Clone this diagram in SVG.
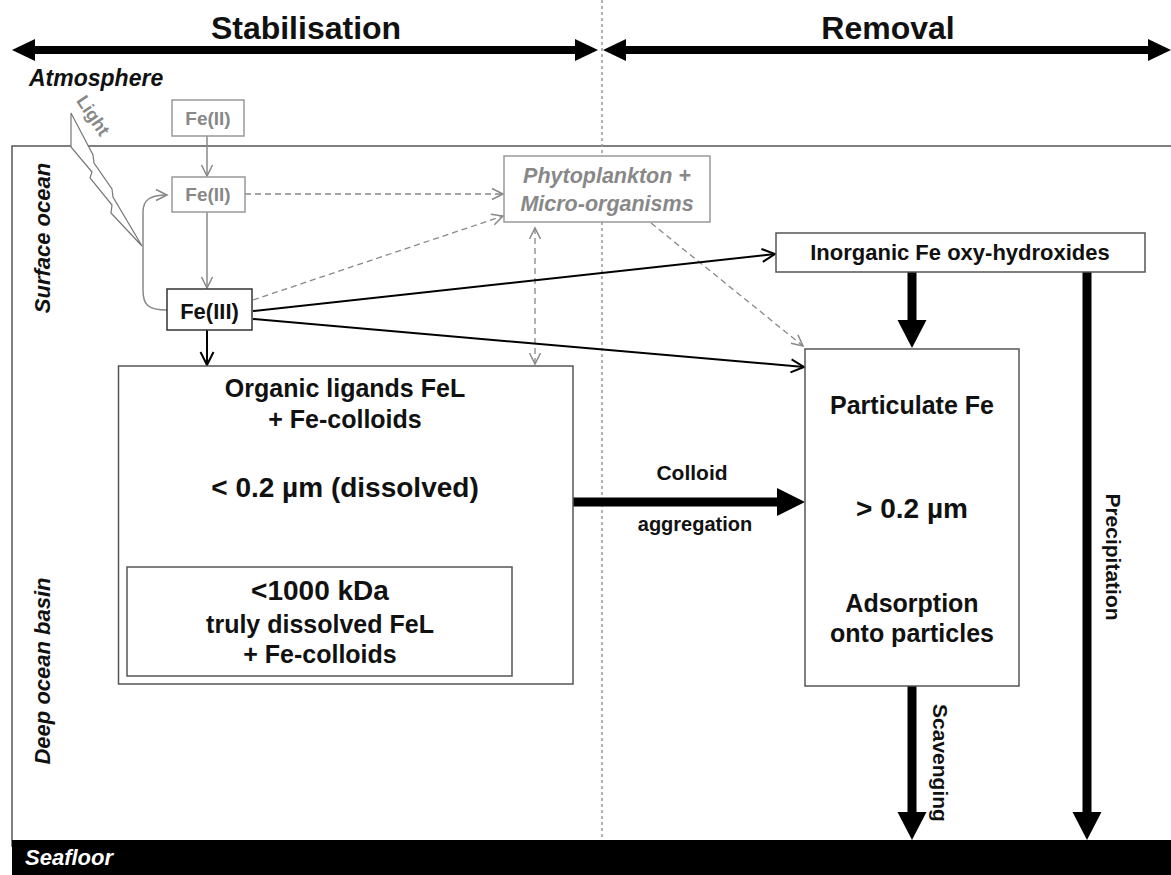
<svg xmlns="http://www.w3.org/2000/svg" width="1171" height="875" viewBox="0 0 1171 875">
<defs>
<marker id="vGray" markerUnits="userSpaceOnUse" markerWidth="14" markerHeight="14" refX="12" refY="6" orient="auto-start-reverse" viewBox="0 0 14 12">
<path d="M1,0.5 L12,6 L1,11.5" fill="none" stroke="#888" stroke-width="1.5"/>
</marker>
<marker id="vBlack" markerUnits="userSpaceOnUse" markerWidth="16" markerHeight="16" refX="14" refY="7" orient="auto" viewBox="0 0 16 14">
<path d="M1,0.5 L14,7 L1,13.5" fill="none" stroke="#000" stroke-width="2"/>
</marker>
</defs>
<style>
text{font-family:"Liberation Sans",Arial,sans-serif;font-weight:bold;fill:#111}
.c{text-anchor:middle}
.it{font-style:italic}
.gray{fill:#888}
.box{fill:#fff;stroke:#555;stroke-width:1.5}
.gbox{fill:#fff;stroke:#999;stroke-width:1.5}
.gl{fill:none;stroke:#888;stroke-width:1.5}
.gd{fill:none;stroke:#888;stroke-width:1.3;stroke-dasharray:6,4}
.bl{fill:none;stroke:#000;stroke-width:2}
.thick{fill:#000}
</style>

<g id="background">
<rect x="12" y="146" width="1170" height="700" fill="#fff" stroke="#555" stroke-width="1.5"/>
<line x1="602" y1="0" x2="602" y2="840" stroke="#999" stroke-width="1.5" stroke-dasharray="3,3"/>
<rect x="12" y="840" width="1170" height="40" fill="#000"/>
<text x="25" y="865" class="it" style="fill:#fff" font-size="22">Seafloor</text>
<text x="29" y="86" class="it" font-size="23">Atmosphere</text>
<text transform="translate(50,238) rotate(-90)" class="c it" font-size="22">Surface ocean</text>
<text transform="translate(50,671) rotate(-90)" class="c it" font-size="22">Deep ocean basin</text>
</g>

<g id="phase-arrows">
<rect x="32" y="46" width="546" height="8" fill="#000"/>
<polygon points="12,50 35,39 35,61" fill="#000"/>
<polygon points="598,50 575,39 575,61" fill="#000"/>
<text x="306" y="39" class="c" font-size="32">Stabilisation</text>
<rect x="624" y="46" width="530" height="8" fill="#000"/>
<polygon points="603,50 626,39 626,61" fill="#000"/>
<polygon points="1171,50 1148,39 1148,61" fill="#000"/>
<text x="888" y="39" class="c" font-size="32">Removal</text>
</g>

<g id="light">
<polygon points="71,113 71,147 92,172 90,178 112,205 111,213 142,246 113,197 112,189 94,163 93,155" fill="#fff" stroke="#777" stroke-width="1.2"/>
<text transform="translate(88,119) rotate(56)" class="c gray" font-size="18">Light</text>
</g>

<g id="connectors">
<line x1="207" y1="136" x2="207" y2="176" class="gl" marker-end="url(#vGray)"/>
<line x1="207" y1="212" x2="207" y2="288" class="gl" marker-end="url(#vGray)"/>
<path d="M167,310 C147,310 143,304 143,290 L143,212 C143,200 150,195 167,195" class="gl" marker-end="url(#vGray)"/>
<line x1="245" y1="194" x2="503" y2="194" class="gd" marker-end="url(#vGray)"/>
<line x1="253" y1="300" x2="503" y2="216" class="gd" marker-end="url(#vGray)"/>
<line x1="535" y1="228" x2="535" y2="364" class="gd" marker-start="url(#vGray)" marker-end="url(#vGray)"/>
<line x1="651" y1="223" x2="803" y2="346" class="gd" marker-end="url(#vGray)"/>
<line x1="253" y1="311" x2="775" y2="254" class="bl" marker-end="url(#vBlack)"/>
<line x1="253" y1="319" x2="804" y2="367" class="bl" marker-end="url(#vBlack)"/>
<line x1="207" y1="330" x2="207" y2="365" class="bl" marker-end="url(#vBlack)"/>
<rect x="907.5" y="272" width="9" height="50" class="thick"/>
<polygon points="897.5,320 926.5,320 912,348" class="thick"/>
<rect x="1082.5" y="272" width="9" height="542" class="thick"/>
<polygon points="1072.5,812 1101.5,812 1087,840" class="thick"/>
<rect x="907.5" y="686" width="9" height="128" class="thick"/>
<polygon points="897.5,812 926.5,812 912,840" class="thick"/>
<rect x="573" y="497.5" width="206" height="9" class="thick"/>
<polygon points="777,488 777,516 805,502" class="thick"/>
<text x="692" y="480" class="c" font-size="21">Colloid</text>
<text x="695" y="531" class="c" font-size="20">aggregation</text>
<text transform="translate(1106,557) rotate(90)" class="c" font-family="Liberation Sans, Arial, sans-serif" font-size="21">Precipitation</text>
<text transform="translate(933,763) rotate(90)" class="c" font-family="Liberation Sans, Arial, sans-serif" font-size="21">Scavenging</text>
</g>

<g id="fe2-top">
<rect x="172" y="100" width="72" height="36" class="gbox"/>
<text x="208" y="125" class="c gray" font-size="19">Fe(II)</text>
</g>

<g id="fe2">
<rect x="172" y="177" width="73" height="35" class="gbox"/>
<text x="208" y="201" class="c gray" font-size="19">Fe(II)</text>
</g>

<g id="fe3">
<rect x="167" y="289" width="85" height="41" fill="#fff" stroke="#333" stroke-width="1.5"/>
<text x="209.5" y="319" class="c" font-size="22">Fe(III)</text>
</g>

<g id="phyto">
<rect x="504" y="156" width="206" height="66" class="gbox"/>
<text x="607" y="183" class="c it gray" font-size="21.5">Phytoplankton +</text>
<text x="607" y="211" class="c it gray" font-size="21.5">Micro-organisms</text>
</g>

<g id="organic">
<rect x="118.5" y="366" width="454.5" height="318" class="box"/>
<text x="345" y="397" class="c" font-size="25">Organic ligands FeL</text>
<text x="345" y="428" class="c" font-size="25">+ Fe-colloids</text>
<text x="345" y="497" class="c" font-size="28">&lt; 0.2 µm (dissolved)</text>
</g>

<g id="truly-dissolved">
<rect x="127" y="567" width="385" height="109" class="box"/>
<text x="320" y="600" class="c" font-size="28">&lt;1000 kDa</text>
<text x="320" y="633" class="c" font-size="25">truly dissolved FeL</text>
<text x="320" y="663" class="c" font-size="25">+ Fe-colloids</text>
</g>

<g id="inorganic">
<rect x="776" y="233" width="369" height="39" class="box"/>
<text x="960" y="260" class="c" font-size="22">Inorganic Fe oxy-hydroxides</text>
</g>

<g id="particulate">
<rect x="805" y="349" width="214" height="337" class="box"/>
<text x="912" y="414" class="c" font-size="25">Particulate Fe</text>
<text x="912" y="518" class="c" font-size="28">&gt; 0.2 µm</text>
<text x="912" y="612" class="c" font-size="25">Adsorption</text>
<text x="912" y="642" class="c" font-size="25">onto particles</text>
</g>
</svg>
